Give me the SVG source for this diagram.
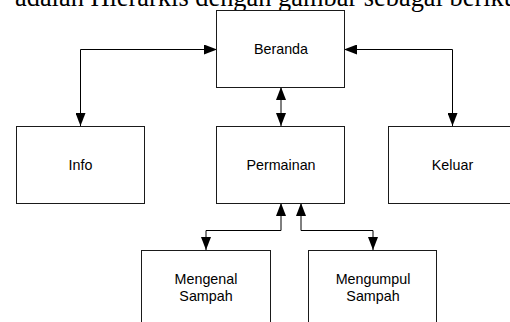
<svg xmlns="http://www.w3.org/2000/svg" width="510" height="322" viewBox="0 0 510 322">
  <defs>
    <style>
      .box { fill: #ffffff; stroke: #1a1a1a; stroke-width: 1; }
      .lbl { font-family: "Liberation Sans", Arial, sans-serif; font-size: 14.3px; fill: #000; text-anchor: middle; }
      .conn { fill: none; stroke: #000; stroke-width: 1; marker-start: url(#arr); marker-end: url(#arr); }
      .body { font-family: "Liberation Serif", "Times New Roman", serif; font-size: 26.4px; fill: #000; }
    </style>
    <marker id="arr" markerUnits="userSpaceOnUse" markerWidth="13" markerHeight="10" refX="13" refY="5" orient="auto-start-reverse" viewBox="0 0 13 10">
      <path d="M0,0 L13,5 L0,10 Z" fill="#000"/>
    </marker>
  </defs>
  <rect width="510" height="322" fill="#ffffff"/>
  <text class="body" x="15" y="6">adalah Hierarkis dengan gambar sebagai berikut:</text>

  <g id="connectors">
    <path class="conn" d="M80.5,126 L80.5,49.5 L217,49.5"/>
    <path class="conn" d="M452.5,126 L452.5,49.5 L344,49.5"/>
    <path class="conn" d="M281,87 L281,126"/>
    <path class="conn" d="M281,203 L281,230.5 L206,230.5 L206,250"/>
    <path class="conn" d="M301,203 L301,230.5 L373,230.5 L373,250"/>
  </g>

  <g id="beranda">
    <rect class="box" x="216.5" y="10.5" width="128" height="77"/>
    <text class="lbl" x="281" y="54">Beranda</text>
  </g>
  <g id="info">
    <rect class="box" x="16.5" y="126.5" width="128" height="77"/>
    <text class="lbl" x="80.5" y="169.5">Info</text>
  </g>
  <g id="permainan">
    <rect class="box" x="216.5" y="126.5" width="128" height="77"/>
    <text class="lbl" x="281" y="169.5">Permainan</text>
  </g>
  <g id="keluar">
    <rect class="box" x="388.5" y="126.5" width="128" height="77"/>
    <text class="lbl" x="452.5" y="169.5">Keluar</text>
  </g>
  <g id="mengenal-sampah">
    <rect class="box" x="141.5" y="250.5" width="129" height="77"/>
    <text class="lbl" x="206" y="284">Mengenal</text>
    <text class="lbl" x="206" y="301">Sampah</text>
  </g>
  <g id="mengumpul-sampah">
    <rect class="box" x="308.5" y="250.5" width="128" height="77"/>
    <text class="lbl" x="373" y="284">Mengumpul</text>
    <text class="lbl" x="373" y="301">Sampah</text>
  </g>
</svg>
